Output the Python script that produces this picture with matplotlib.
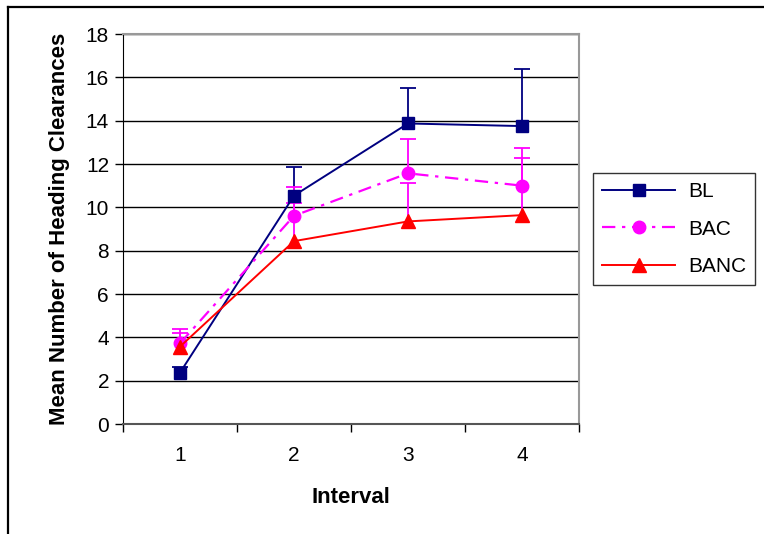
import numpy as np
import matplotlib.pyplot as plt
from matplotlib.lines import Line2D

plt.rcParams['font.family'] = ['Liberation Sans', 'DejaVu Sans']

# data
intervals = [1, 2, 3, 4]
bl = [2.37, 10.54, 13.87, 13.75]
bl_err = [0.27, 1.34, 1.62, 2.63]
bac = [3.72, 9.61, 11.57, 11.0]
bac_err = [0.66, 1.34, 1.58, 1.72]
banc = [3.57, 8.44, 9.35, 9.64]
banc_err = [0.61, 1.77, 1.79, 2.62]

navy = '#000080'
magenta = '#ff00ff'
red = '#ff0000'

fig = plt.figure(figsize=(7.64, 5.34), dpi=100)
W, H = 764, 534
ax = fig.add_axes([123 / W, 1 - 424 / H, (579 - 123) / W, (424 - 34) / H])

# outer chart frame (only top and left visible)
fig.add_artist(Line2D([8 / W, 8 / W], [0, 1 - 7 / H], color='black', lw=1.6, transform=fig.transFigure))
fig.add_artist(Line2D([8 / W, 1], [1 - 7 / H, 1 - 7 / H], color='black', lw=1.6, transform=fig.transFigure))

x = np.array(intervals)

def plus_errorbar(vals, errs, col):
    vals = np.array(vals)
    tops = vals + np.array(errs)
    ax.vlines(x, vals, tops, color=col, lw=1.3, zorder=3)
    ax.plot(x, tops, ls='none', marker='_', ms=12, mew=1.3, color=col, zorder=3)

# error bars (plus only); BANC bars are drawn in magenta like the original
plus_errorbar(bl, bl_err, navy)
plus_errorbar(bac, bac_err, magenta)
plus_errorbar(banc, banc_err, magenta)

ax.plot(x, bl, color=navy, lw=1.4, marker='s', ms=9, label='BL', zorder=4)
ax.plot(x, bac, color=magenta, lw=1.6, marker='o', ms=9, dashes=(6, 3, 1.5, 3), label='BAC', zorder=4)
ax.plot(x, banc, color=red, lw=1.4, marker='^', ms=10, label='BANC', zorder=4)

ax.set_xlim(0.5, 4.5)
ax.set_ylim(0, 18)
ax.set_yticks(np.arange(0, 19, 2))
ax.set_xticks([0.5, 1.5, 2.5, 3.5, 4.5])
ax.set_xticklabels([])
ax.set_xticks(x, minor=True)
ax.set_xticklabels([str(i) for i in intervals], minor=True)
ax.tick_params(axis='x', which='minor', length=0, pad=16, labelsize=15)
ax.tick_params(axis='x', which='major', length=6, direction='out', width=1, color='black')
ax.tick_params(axis='y', length=6, direction='out', width=1, labelsize=15, pad=4)

ax.yaxis.grid(True, color='black', lw=1)
ax.set_axisbelow(True)
for s in ['top', 'right']:
    ax.spines[s].set_color('#999999')
    ax.spines[s].set_linewidth(1.5)
ax.spines['bottom'].set_color('#555555')
ax.spines['bottom'].set_linewidth(1.5)
ax.spines['left'].set_color('black')

ax.set_xlabel('Interval', fontsize=16, fontweight='bold', labelpad=16)
ax.set_ylabel('Mean Number of Heading Clearances', fontsize=16, fontweight='bold', labelpad=11)

leg = ax.legend(loc='upper left', bbox_to_anchor=(593 / W, 1 - 173 / H), bbox_transform=fig.transFigure,
                fontsize=15, frameon=True, fancybox=False, edgecolor='black', handlelength=3.5,
                borderpad=0.45, labelspacing=0.88, handletextpad=0.6, borderaxespad=0)
leg.get_frame().set_linewidth(1.0)

fig.savefig('out.png', dpi=100)
